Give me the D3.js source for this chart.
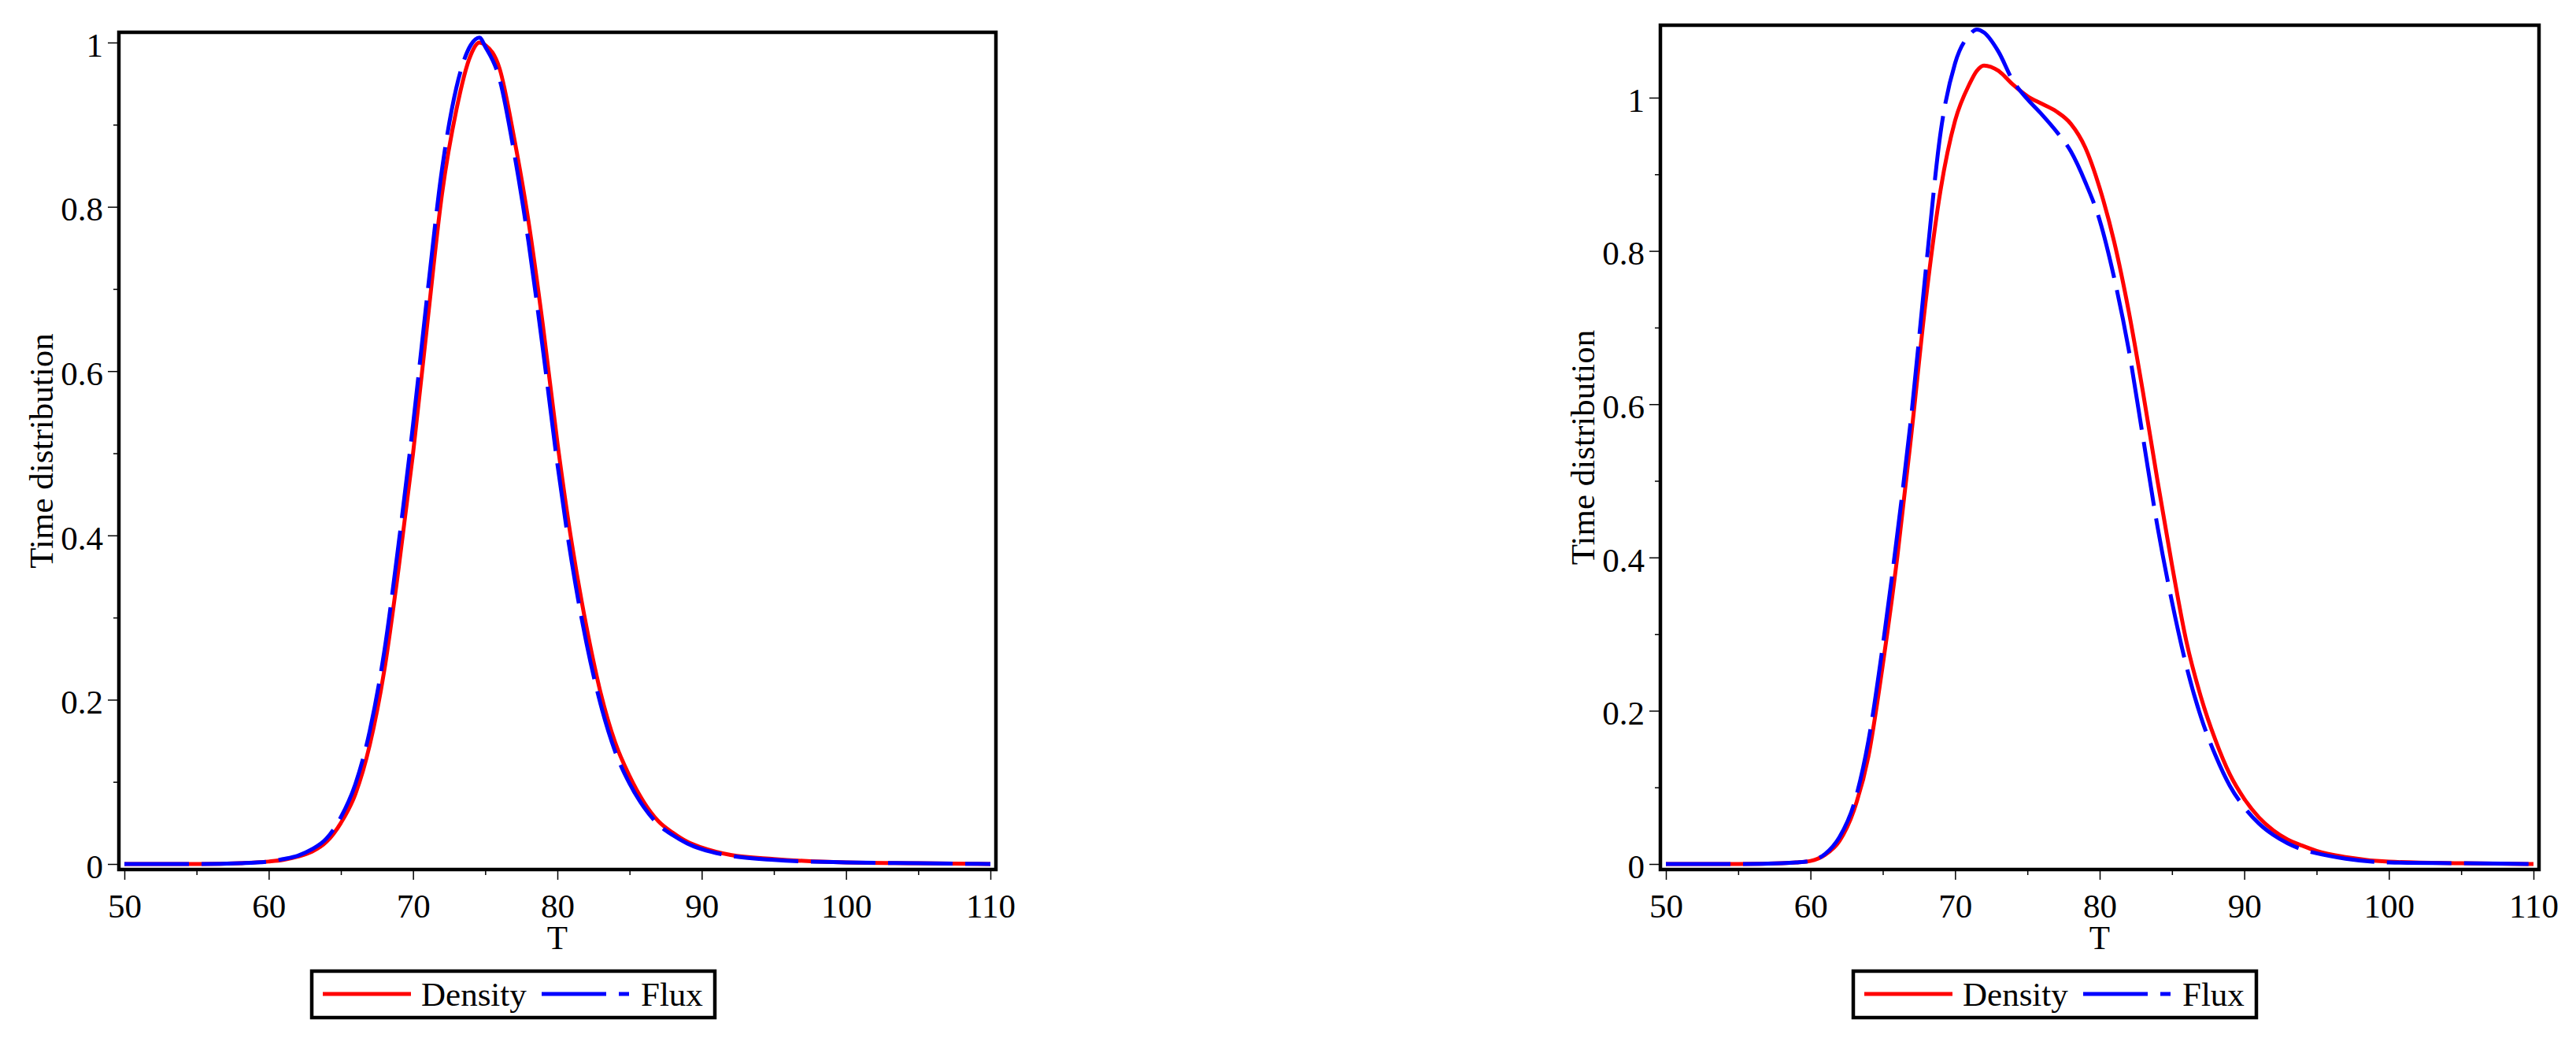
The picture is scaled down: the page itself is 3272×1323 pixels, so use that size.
<!DOCTYPE html>
<html>
<head>
<meta charset="utf-8">
<script src="https://cdn.jsdelivr.net/npm/d3@7.9.0/dist/d3.min.js"></script>
<style>
  body { margin: 0; background: #fff; }
  svg { display: block; }
  svg text { font-family: "Liberation Serif", "Times New Roman", Times, "DejaVu Serif", serif !important; font-size: 43px; fill: #000; }
</style>
</head>
<body>
<svg id="chart" width="3272" height="1323"></svg>
<script>
// left panel: time grid and the two curves
const tLeft = [50, 55, 58, 60, 61, 62, 63, 64, 65, 66, 67, 68, 69, 70, 71, 72, 73, 74, 74.6, 75,
  76, 77, 78, 79, 80, 81, 82, 83, 84, 85, 86, 87, 88, 89, 90, 92, 95, 100, 105, 110];
const densityLeft = [0, 0, 0.001, 0.003, 0.005, 0.009, 0.015, 0.027, 0.05, 0.085,
  0.145, 0.235, 0.36, 0.5, 0.66, 0.815, 0.918, 0.985, 1.0, 0.997,
  0.968, 0.884, 0.782, 0.655, 0.513, 0.39, 0.29, 0.208, 0.148, 0.107,
  0.075, 0.052, 0.038, 0.027, 0.02, 0.011, 0.006, 0.002, 0.001, 0];
const fluxLeft = [0, 0, 0.001, 0.003, 0.006, 0.01, 0.018, 0.031, 0.057, 0.097,
  0.162, 0.258, 0.39, 0.535, 0.695, 0.845, 0.945, 0.997, 1.006, 0.995,
  0.955, 0.866, 0.757, 0.626, 0.487, 0.367, 0.27, 0.194, 0.137, 0.098,
  0.069, 0.048, 0.035, 0.025, 0.018, 0.01, 0.005, 0.002, 0.001, 0];

// right panel
const tRight = [50, 55, 58, 59, 60, 61, 62, 63, 64, 65, 66, 67, 68, 69, 70, 71, 71.5, 72, 73, 74,
  75, 76, 77, 78, 79, 80, 81, 82, 83, 84, 85, 86, 87, 88, 89, 90, 91, 92, 93, 94,
  95, 97, 100, 105, 110];
const densityRight = [0, 0, 0.001, 0.002, 0.004, 0.012, 0.03, 0.07, 0.14, 0.26,
  0.4, 0.565, 0.74, 0.88, 0.97, 1.018, 1.035, 1.042, 1.035, 1.017,
  1.002, 0.992, 0.982, 0.966, 0.935, 0.882, 0.812, 0.722, 0.615, 0.5,
  0.39, 0.29, 0.218, 0.162, 0.117, 0.085, 0.061, 0.044, 0.032, 0.024,
  0.017, 0.009, 0.003, 0.001, 0];
const fluxRight = [0, 0, 0.001, 0.002, 0.004, 0.013, 0.035, 0.078, 0.16, 0.285,
  0.43, 0.59, 0.78, 0.955, 1.045, 1.082, 1.089, 1.085, 1.06, 1.022,
  0.998, 0.978, 0.956, 0.93, 0.89, 0.84, 0.765, 0.672, 0.556, 0.44,
  0.342, 0.258, 0.192, 0.142, 0.102, 0.074, 0.053, 0.038, 0.027, 0.019,
  0.014, 0.007, 0.002, 0.001, 0];

const xTicks = [50, 60, 70, 80, 90, 100, 110];
const xMinorTicks = [55, 65, 75, 85, 95, 105];
const yTicks = [0, 0.2, 0.4, 0.6, 0.8, 1];
const yTickLabels = ["0", "0.2", "0.4", "0.6", "0.8", "1"];
const yMinorTicks = [0.1, 0.3, 0.5, 0.7, 0.9];
const seriesNames = ["Density", "Flux"];
const seriesColors = ["#ff0000", "#0000ff"];

const serif = '"Liberation Serif", "Times New Roman", Times, "DejaVu Serif", serif';
const svg = d3.select("#chart");
svg.append("rect").attr("width", 3272).attr("height", 1323).attr("fill", "#fff");

function drawPanel(p) {
  const x = d3.scaleLinear().domain([50, 110]).range([p.x0, p.x1]);
  const y = d3.scaleLinear().domain([0, 1]).range([p.y0, p.y1]);
  const g = svg.append("g").attr("font-family", serif);

  const fl = x(50) - 7, fr = x(110) + 7, fb = y(0) + 7, ft = p.top;

  // x axis, ticks hang below the frame
  g.append("g").attr("transform", `translate(0,${fb + 2})`)
    .call(d3.axisBottom(x).tickValues(xTicks).tickSize(11).tickPadding(17).tickFormat(d3.format("d")));
  g.append("g").attr("transform", `translate(0,${fb + 2})`)
    .call(d3.axisBottom(x).tickValues(xMinorTicks).tickSize(5).tickFormat(""));

  const yAxis = g.append("g").attr("transform", `translate(${fl - 2},0)`)
    .call(d3.axisLeft(y).tickValues(yTicks).tickSize(12).tickPadding(6).tickFormat((d, i) => yTickLabels[i]));
  g.append("g").attr("transform", `translate(${fl - 2},0)`)
    .call(d3.axisLeft(y).tickValues(yMinorTicks).tickSize(5).tickFormat(""));

  g.selectAll(".domain").remove();
  g.selectAll("g").attr("font-family", serif).attr("font-size", 43);
  g.selectAll(".tick line").attr("stroke", "#000").attr("stroke-width", 1.5);
  g.selectAll(".tick text").attr("fill", "#000");
  yAxis.selectAll(".tick text").attr("dy", "0.4em");

  // curves: red first, blue dashed on top
  const line = d3.line().x((d) => x(d[0])).y((d) => y(d[1])).curve(d3.curveMonotoneX);
  [p.density, p.flux].forEach((vals, i) => {
    g.append("path")
      .datum(d3.zip(p.t, vals))
      .attr("d", line)
      .attr("fill", "none")
      .attr("stroke", seriesColors[i])
      .attr("stroke-width", 5)
      .attr("stroke-dasharray", i === 1 ? "82,16" : null);
  });

  g.append("rect")
    .attr("x", fl).attr("y", ft)
    .attr("width", fr - fl).attr("height", fb - ft)
    .attr("fill", "none").attr("stroke", "#000").attr("stroke-width", 4.5);

  g.append("text")
    .attr("x", x(80)).attr("y", 1205)
    .attr("text-anchor", "middle")
    .text("T");

  g.append("text")
    .attr("transform", `translate(${fl - 84},${(ft + fb) / 2}) rotate(-90)`)
    .attr("text-anchor", "middle")
    .text("Time distribution");

  // legend under the plot
  const lg = g.append("g").attr("transform", `translate(${fl + 245},1233)`);
  lg.append("rect").attr("width", 512).attr("height", 59)
    .attr("fill", "#fff").attr("stroke", "#000").attr("stroke-width", 4.5);
  const items = [[14, 126, 139], [292, 403, 418]];
  items.forEach(([a, b, tx], i) => {
    lg.append("line").attr("x1", a).attr("x2", b).attr("y1", 29).attr("y2", 29)
      .attr("stroke", seriesColors[i]).attr("stroke-width", 5)
      .attr("stroke-dasharray", i === 1 ? "82,16" : null);
    lg.append("text").attr("x", tx).attr("y", 44).text(seriesNames[i]);
  });
}

drawPanel({ x0: 158, x1: 1258, y0: 1097, y1: 54, top: 41, t: tLeft, density: densityLeft, flux: fluxLeft });
drawPanel({ x0: 2116, x1: 3218, y0: 1097, y1: 124, top: 32, t: tRight, density: densityRight, flux: fluxRight });
</script>
</body>
</html>
